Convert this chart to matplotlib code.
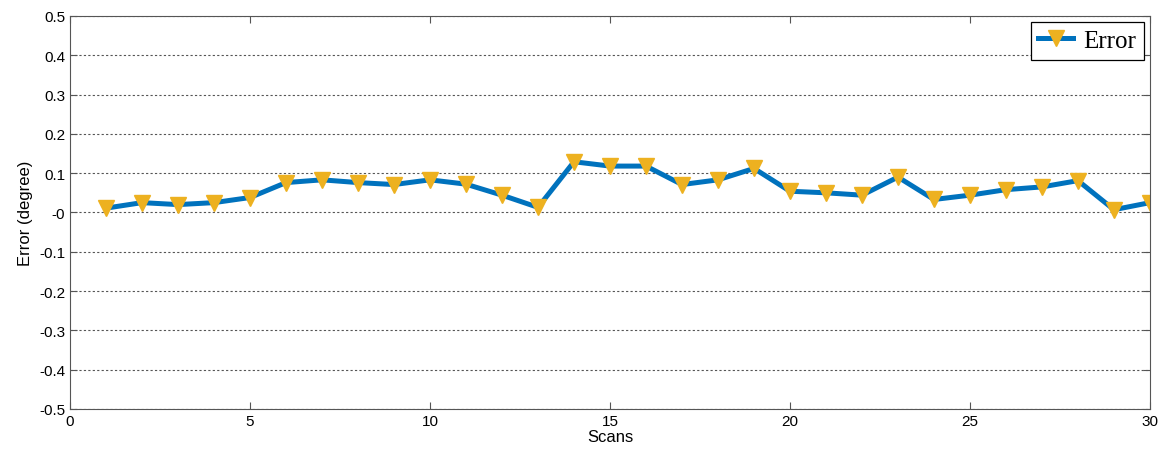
import numpy as np
import matplotlib.pyplot as plt

# scan index and angular error
scans = list(range(1, 31))
error = [0.011, 0.025, 0.020, 0.025, 0.038, 0.076, 0.083, 0.076, 0.071, 0.083,
         0.072, 0.044, 0.013, 0.129, 0.118, 0.118, 0.071, 0.083, 0.112, 0.054,
         0.050, 0.044, 0.090, 0.033, 0.044, 0.058, 0.065, 0.081, 0.007, 0.025]

xticks = [0, 5, 10, 15, 20, 25, 30]
yticks = np.round(np.arange(-0.5, 0.51, 0.1), 1)

plt.rcParams['font.family'] = ['Liberation Sans', 'DejaVu Sans']

fig = plt.figure(figsize=(11.63, 4.52), dpi=100)
ax = fig.add_axes([0.0602, 0.093, 0.9286, 0.8695])

ax.plot(scans, error, color='#0072BD', linewidth=3.6, marker='v',
        markersize=11, markerfacecolor='#EDB120', markeredgecolor='#EDB120',
        label='Error')

ax.set_xlim(0, 30)
ax.set_ylim(-0.5, 0.5)
ax.set_xticks(xticks)
ax.set_yticks(yticks)
ax.set_yticklabels([('%g' % v) for v in yticks])
ax.tick_params(direction='in', labelsize=11, length=5, color='#555555',
               top=True, right=True)
ax.yaxis.grid(True, linestyle=(0, (2, 2)), color='#555555', linewidth=0.8)
for s in ax.spines.values():
    s.set_color('#555555')

ax.set_xlabel('Scans', fontsize=12, labelpad=1)
ax.set_ylabel('Error (degree)', fontsize=12, labelpad=4)

leg = ax.legend(loc='upper right', prop={'family': 'Liberation Serif', 'size': 18},
                fancybox=False, framealpha=1, edgecolor='black',
                handlelength=1.4, handletextpad=0.4, borderaxespad=0.25,
                borderpad=0.3)
leg.get_frame().set_linewidth(0.9)

fig.savefig('out.png', dpi=100)
